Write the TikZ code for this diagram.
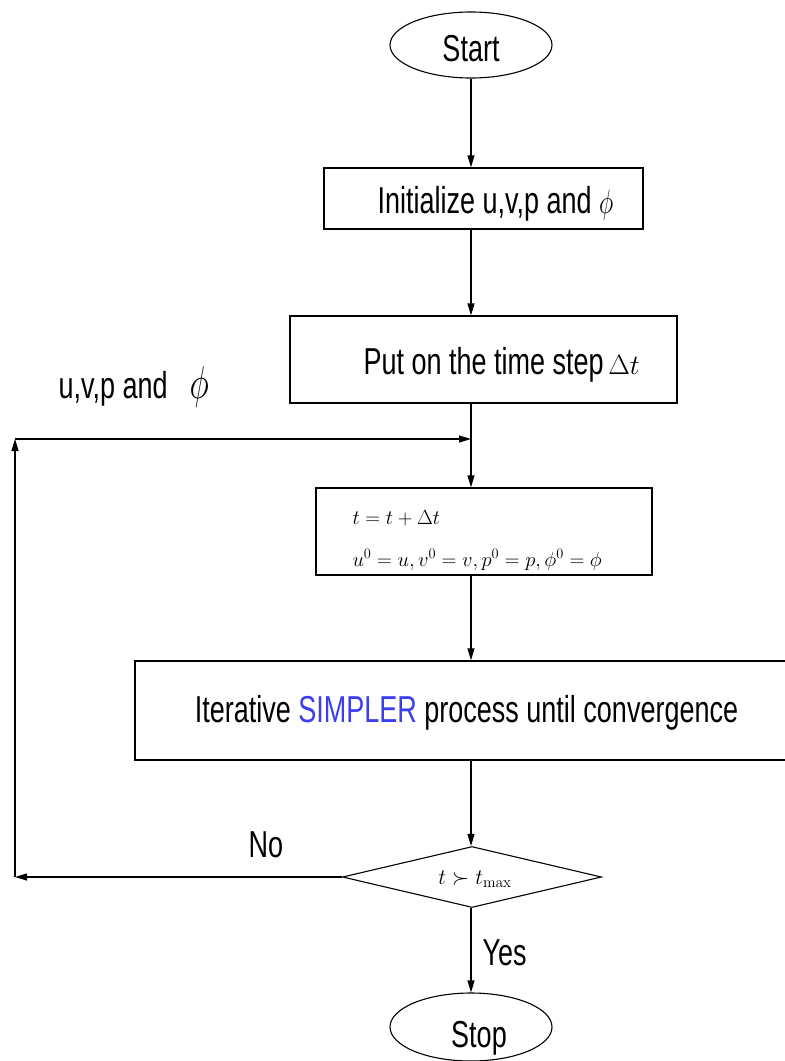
\RequirePackage{fix-cm}
\documentclass[tikz,border=0pt]{standalone}
\usepackage{graphicx}
\usepackage[no-math]{fontspec}
\setmainfont[FakeStretch=0.72]{Liberation Sans}
\usetikzlibrary{shapes.geometric,arrows.meta}
\definecolor{simpblue}{RGB}{60,60,240}
\newcommand\narrowphi{\scalebox{0.72}[1]{$\phi$}}
\begin{document}
\begin{tikzpicture}[x=1pt,y=-1pt,
  line width=1.1pt,
  arr/.style={-{Triangle[length=12pt,width=7pt]}},
  box/.style={draw,rectangle,inner sep=0pt,line width=1.3pt},
  term/.style={draw,ellipse,inner sep=0pt,minimum width=162pt,minimum height=66pt,line width=1.1pt},
  dec/.style={draw,diamond,aspect=4.25,inner sep=0pt,minimum width=259pt,minimum height=61pt,line width=1.1pt},
  lbl/.style={font=\fontsize{37.5}{40}\selectfont,inner sep=0pt},
  mth/.style={font=\fontsize{20.5}{24}\selectfont,inner sep=0pt},
]
\useasboundingbox (0,0) rectangle (785,1061);
\clip (0,0) rectangle (785,1061);

% shapes
\node[term] (start) at (471,45) {};
\node[lbl,anchor=base] (startT) at (471,61) {Start};

\node[box,minimum width=319pt,minimum height=61pt] (init) at (483.5,198.5) {};
\node[lbl,anchor=base west] (initT) at (377,213) {Initialize u,v,p and {\fontsize{34}{36}\selectfont\narrowphi}};

\node[box,minimum width=387pt,minimum height=87pt] (put) at (483.5,359.5) {};
\node[lbl,anchor=base west] (putT) at (363,374) {Put on the time step{\fontsize{28}{30}\selectfont$\,\Delta t$}};

\node[box,minimum width=336pt,minimum height=87pt] (tbox) at (484,531.5) {};
\node[mth,anchor=base west] (tl1) at (352,524) {$t = t + \Delta t$};
\node[mth,anchor=base west] (tl2) at (352,566) {$u^0 = u, v^0 = v, p^0 = p, \phi^0 = \phi$};

\node[box,minimum width=698pt,minimum height=99pt] (simp) at (484,710.5) {};
\node[lbl,anchor=base] (simpT) at (466.5,722) {Iterative \textcolor{simpblue}{SIMPLER} process until convergence};

\node[dec] (dec) at (472,877) {};
\node[font=\fontsize{22}{26}\selectfont,inner sep=0pt,anchor=base] (decT) at (475,884) {$t \succ t_{\max}$};

\node[term,minimum height=68pt] (stop) at (471,1027) {};
\node[lbl,anchor=base] (stopT) at (479,1047) {Stop};

% labels
\node[lbl,anchor=base west] (fbT) at (58,398) {u,v,p and\hspace{22pt}{\fontsize{46}{50}\selectfont\narrowphi}};
\node[lbl,anchor=base west] (noT) at (248,857) {No};
\node[lbl,anchor=base west] (yesT) at (482,965) {Yes};

% connectors
\coordinate (fbL) at (15,877);
\coordinate (fbTop) at (15,439);
\coordinate (join) at (471,439);

\draw[arr] (start.south) -- (start.south |- init.north);
\draw[arr] (start.south |- init.south) -- (start.south |- put.north);
\draw[arr] (start.south |- put.south) -- (start.south |- tbox.north);
\draw[arr] (start.south |- tbox.south) -- (start.south |- simp.north);
\draw[arr] (start.south |- simp.south) -- (start.south |- dec.north);
\draw[arr] (start.south |- dec.south) -- (stop.north);
\draw[arr] (dec.west) -- (fbL);
\draw[arr] (fbL) -- (fbTop);
\draw[arr] (fbTop) -- (join);
\end{tikzpicture}
\end{document}
